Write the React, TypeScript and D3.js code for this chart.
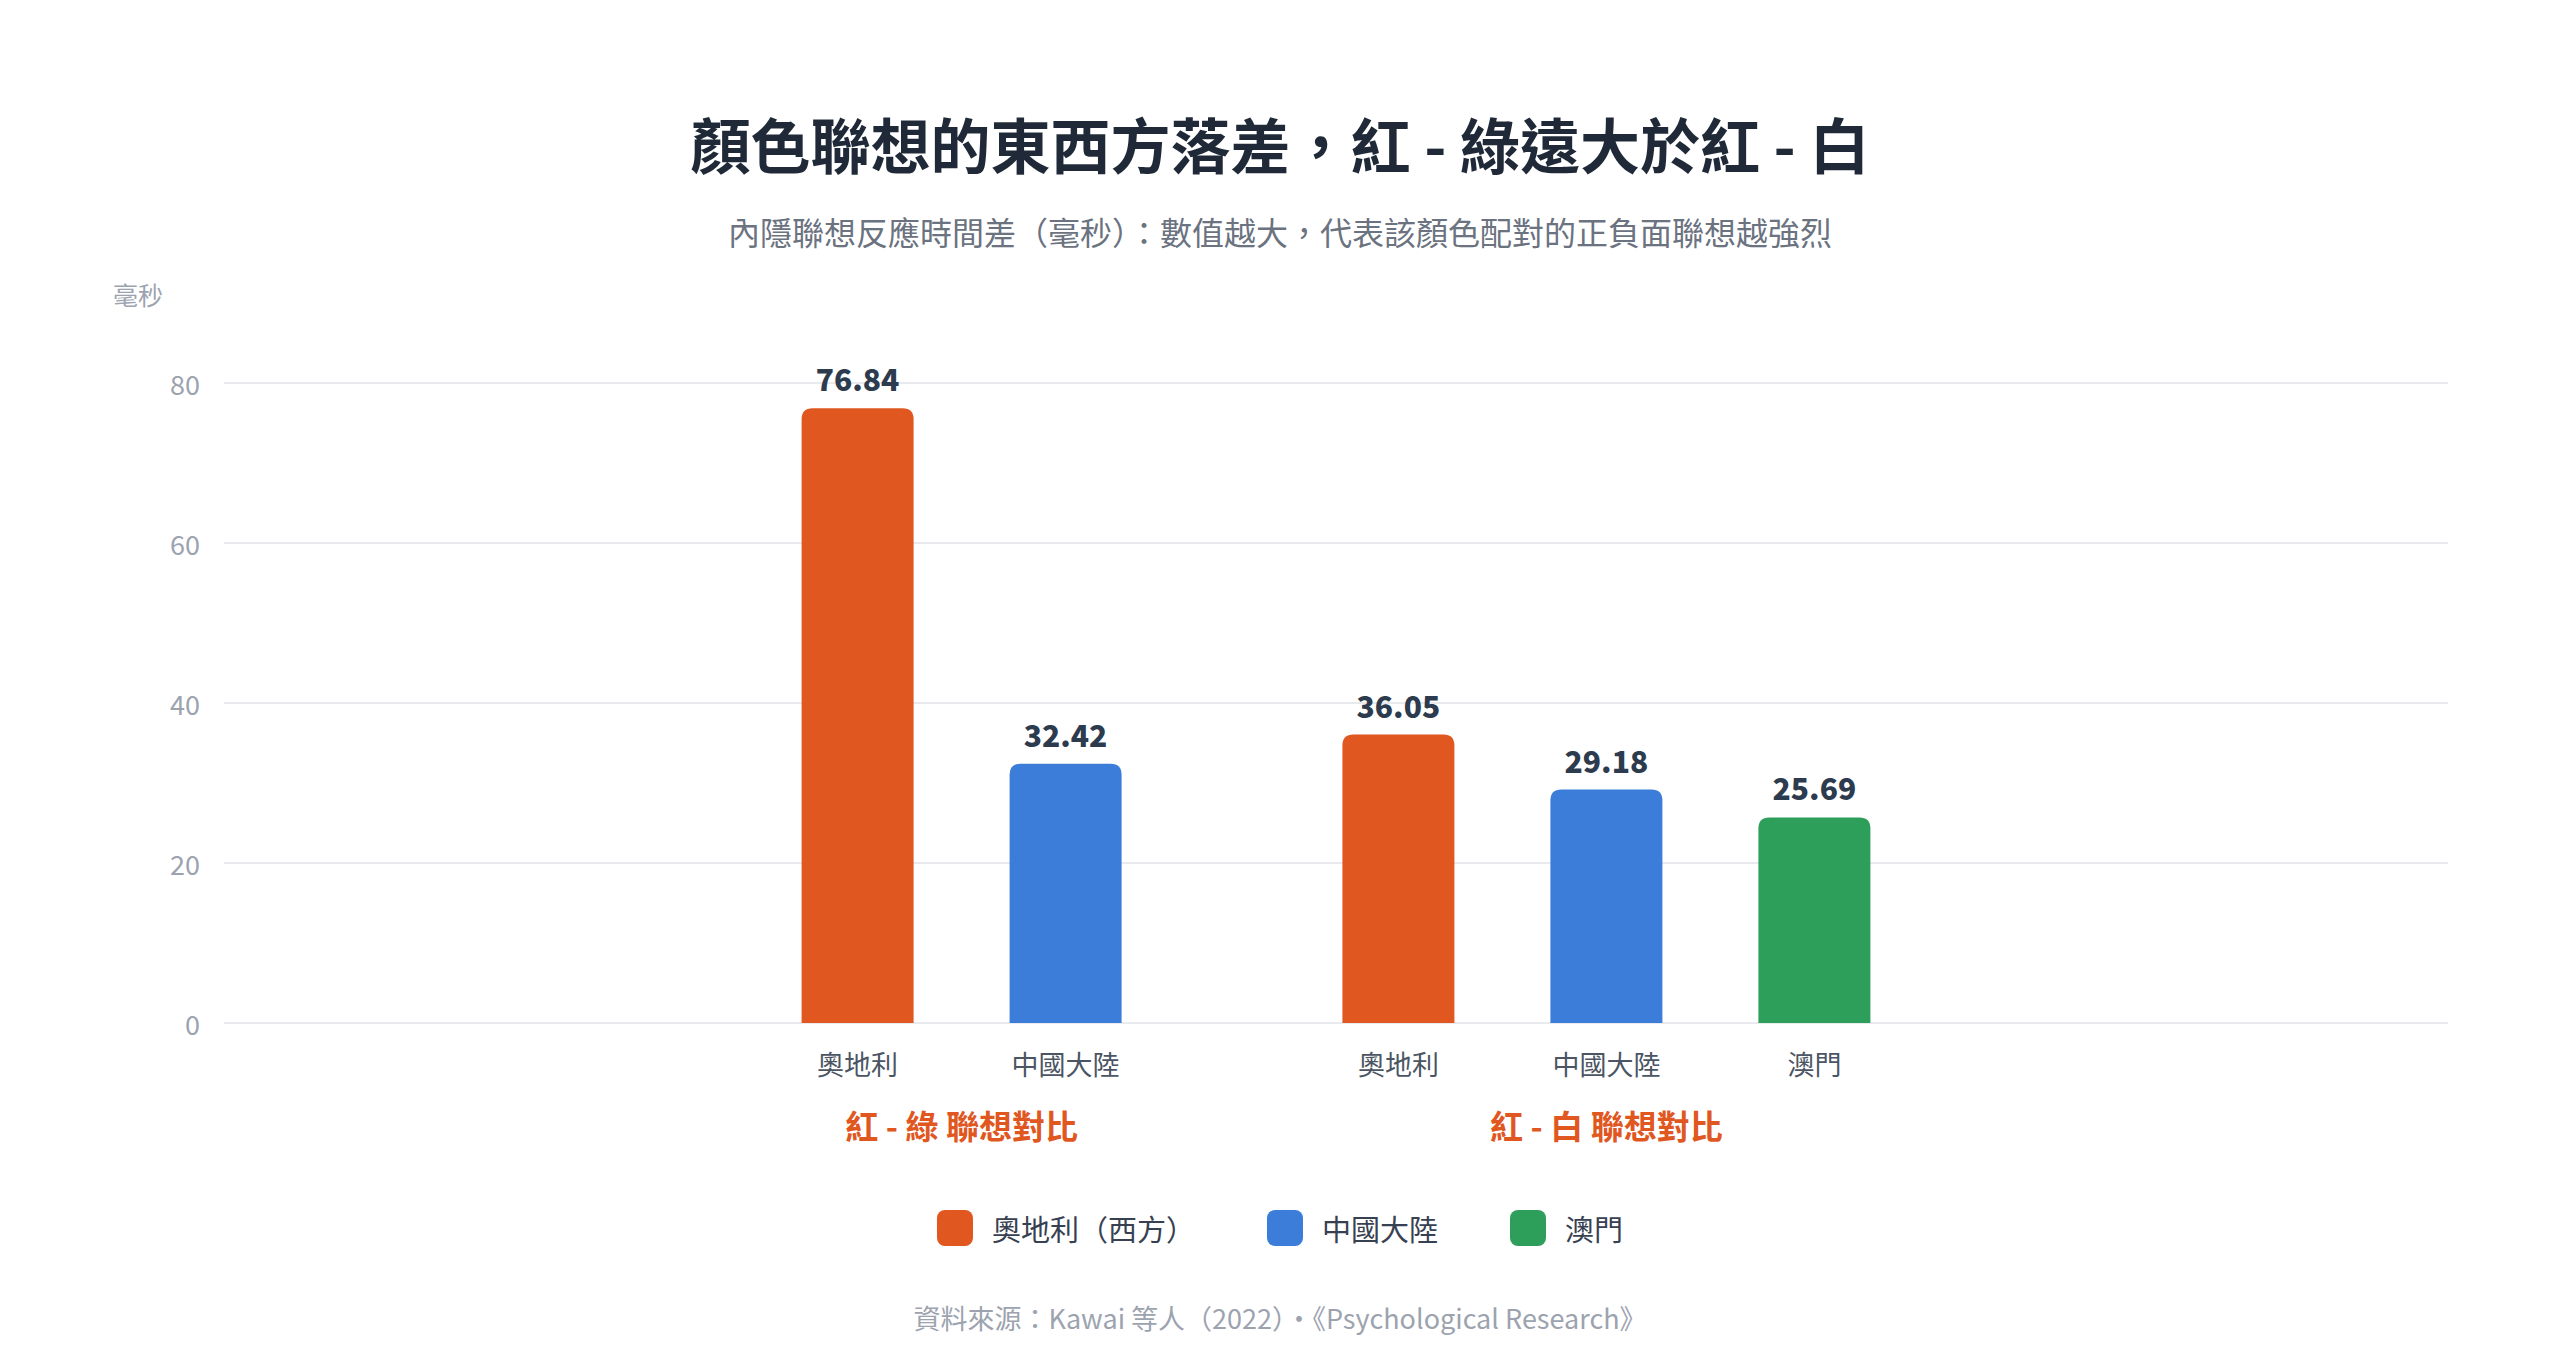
import { useEffect, useRef } from "react";
import * as d3 from "d3";

const groupLabels = ["紅 - 綠 聯想對比", "紅 - 白 聯想對比"];
const groupRegions = [["奧地利", "中國大陸"], ["奧地利", "中國大陸", "澳門"]];
const groupValues = [[76.84, 32.42], [36.05, 29.18, 25.69]];
const regions = ["奧地利", "中國大陸", "澳門"];
const legendLabels = ["奧地利（西方）", "中國大陸", "澳門"];
const regionColors = ["#e0571f", "#3b7dd8", "#2e9e5b"];
const yTicks = [0, 20, 40, 60, 80];

const W = 2560;
const H = 1358;
const FONT = "'Noto Sans CJK TC', 'Noto Sans', sans-serif";

// bar path with rounded top corners only
function barPath(x: number, y: number, w: number, h: number, r: number) {
  const rr = Math.min(r, h / 2, w / 2);
  return `M${x},${y + h}V${y + rr}Q${x},${y} ${x + rr},${y}H${x + w - rr}Q${x + w},${y} ${x + w},${y + rr}V${y + h}Z`;
}

export default function App() {
  const svgRef = useRef<SVGSVGElement>(null);

  useEffect(() => {
    document.body.style.margin = "0";
    if (!svgRef.current) return;
    const svg = d3.select(svgRef.current);
    svg.selectAll("*").remove();

    const plot = { left: 224, right: 2448, top: 383, bottom: 1023 };
    const y = d3.scaleLinear().domain([0, 80]).range([plot.bottom, plot.top]);

    // slots: bars step 1 unit, extra gap between groups
    const step = 208;
    const groupGap = 0.6;
    const slots: { g: number; i: number; pos: number; region: string; value: number }[] = [];
    let p = 0;
    groupRegions.forEach((rs, g) => {
      rs.forEach((r, i) => {
        slots.push({ g, i, pos: p, region: r, value: groupValues[g][i] });
        p += 1;
      });
      p += groupGap;
    });
    const maxPos = d3.max(slots, d => d.pos) as number;
    const mid = (plot.left + plot.right) / 2;
    const x = d3.scaleLinear()
      .domain([0, maxPos])
      .range([mid - (maxPos * step) / 2, mid + (maxPos * step) / 2]);
    const barW = 112;

    // title
    svg.append("text")
      .attr("x", W / 2).attr("y", 142)
      .attr("text-anchor", "middle").attr("dominant-baseline", "central")
      .attr("font-size", 60).attr("font-weight", 700).attr("fill", "#1f2937")
      .text("顏色聯想的東西方落差，紅 - 綠遠大於紅 - 白");
    svg.append("text")
      .attr("x", W / 2).attr("y", 231)
      .attr("text-anchor", "middle").attr("dominant-baseline", "central")
      .attr("font-size", 32).attr("fill", "#6b7280")
      .text("內隱聯想反應時間差（毫秒）：數值越大，代表該顏色配對的正負面聯想越強烈");

    svg.append("text")
      .attr("x", 113).attr("y", 294)
      .attr("dominant-baseline", "central")
      .attr("font-size", 25).attr("fill", "#9ca3af")
      .text("毫秒");

    // grid + y labels
    const gy = svg.append("g");
    gy.selectAll("line").data(yTicks).enter().append("line")
      .attr("x1", plot.left).attr("x2", plot.right)
      .attr("y1", d => y(d)).attr("y2", d => y(d))
      .attr("stroke", "#e8eaee").attr("stroke-width", 2);
    gy.selectAll("text").data(yTicks).enter().append("text")
      .attr("x", 200).attr("y", d => y(d))
      .attr("text-anchor", "end").attr("dominant-baseline", "central")
      .attr("font-size", 27).attr("fill", "#9ca3af")
      .text(d => d);

    // bars
    svg.append("g").selectAll("path").data(slots).enter().append("path")
      .attr("d", d => barPath(x(d.pos) - barW / 2, y(d.value), barW, y(0) - y(d.value), 11))
      .attr("fill", d => regionColors[regions.indexOf(d.region)]);

    // value labels
    svg.append("g").selectAll("text").data(slots).enter().append("text")
      .attr("x", d => x(d.pos)).attr("y", d => y(d.value) - 30)
      .attr("text-anchor", "middle").attr("dominant-baseline", "central")
      .attr("font-size", 30).attr("font-weight", 900).attr("fill", "#2d3b4e")
      .text(d => d.value.toFixed(2));

    // category labels
    svg.append("g").selectAll("text").data(slots).enter().append("text")
      .attr("x", d => x(d.pos)).attr("y", 1063)
      .attr("text-anchor", "middle").attr("dominant-baseline", "central")
      .attr("font-size", 27).attr("fill", "#4b5563")
      .text(d => d.region);

    // group labels
    svg.append("g").selectAll("text").data(groupLabels).enter().append("text")
      .attr("x", (_, g) => {
        const ps = slots.filter(s => s.g === g).map(s => x(s.pos));
        return (d3.min(ps)! + d3.max(ps)!) / 2;
      })
      .attr("y", 1125)
      .attr("text-anchor", "middle").attr("dominant-baseline", "central")
      .attr("font-size", 33).attr("font-weight", 700).attr("fill", "#e0571f")
      .text(d => d);

    // legend
    const lg = svg.append("g");
    const sw = 36;
    const items = legendLabels.map((l, i) => {
      const g = lg.append("g");
      g.append("rect").attr("width", sw).attr("height", sw).attr("rx", 8)
        .attr("y", -sw / 2).attr("fill", regionColors[i]);
      const t = g.append("text").attr("x", sw + 19).attr("dominant-baseline", "central")
        .attr("font-size", 29).attr("fill", "#374151").text(l);
      const tw = (t.node() as SVGTextElement).getComputedTextLength();
      return { g, w: sw + 19 + tw };
    });
    const gap = 72;
    const total = d3.sum(items, d => d.w) + gap * (items.length - 1);
    let lx = W / 2 - total / 2;
    items.forEach(it => {
      it.g.attr("transform", `translate(${lx},1228)`);
      lx += it.w + gap;
    });

    svg.append("text")
      .attr("x", W / 2).attr("y", 1317)
      .attr("text-anchor", "middle").attr("dominant-baseline", "central")
      .attr("font-size", 27).attr("fill", "#9ca3af")
      .text("資料來源：Kawai 等人（2022）·《Psychological Research》");
  }, []);

  return (
    <svg ref={svgRef} width={W} height={H} viewBox={`0 0 ${W} ${H}`}
      style={{ display: "block", background: "#fff", fontFamily: FONT }} />
  );
}
